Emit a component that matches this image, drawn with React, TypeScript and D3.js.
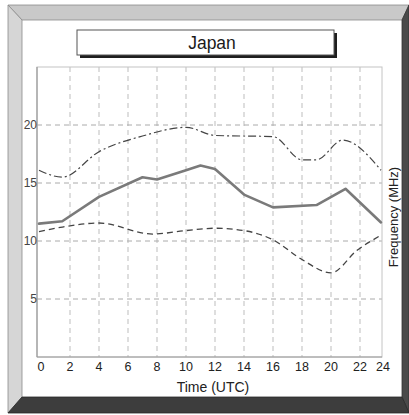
import React from "react";
import * as d3 from "d3";

const hoursTicks = [0, 2, 4, 6, 8, 10, 12, 14, 16, 18, 20, 22, 24];
const freqTicks = [5, 10, 15, 20];

const muftHours = [0, 1.5, 4, 7, 8, 10, 11, 12, 14, 16, 19, 21, 24];
const muftValues = [11.5, 11.7, 13.8, 15.5, 15.3, 16.1, 16.5, 16.2, 14.0, 12.9, 13.1, 14.5, 11.6];

const upperHours = [0, 1.5, 4, 7, 10, 12, 16, 18, 19, 20.8, 24];
const upperValues = [16.1, 15.5, 17.7, 19.05, 19.8, 19.1, 19.0, 17.0, 17.0, 18.7, 16.1];

const lowerHours = [0, 1.5, 4, 7.7, 10, 12, 14, 16, 18, 20, 21.8, 24];
const lowerValues = [10.8, 11.2, 11.55, 10.6, 10.9, 11.1, 10.9, 10.1, 8.4, 7.25, 9.2, 10.5];

const W = 409;
const H = 415;
const FONT = "'Liberation Sans', Arial, Helvetica, sans-serif";

export default function App() {
  const plot = { left: 37, right: 382, top: 67, bottom: 357 };
  const x = d3.scaleLinear().domain([0, 2, 22, 24]).range([39, 70, 360, 381]);
  const y = d3.scaleLinear().domain([0, 25]).range([plot.bottom, plot.top]);

  const mk = (hs: number[], vs: number[], curve: d3.CurveFactory) =>
    d3
      .line<number>()
      .x((_, i) => x(hs[i]))
      .y((v) => y(v))
      .curve(curve)(vs) || "";

  const f = { ol: 8, ot: 5, or: 409, ob: 413, il: 22, it: 20, ir: 402, ib: 397 };

  return (
    <svg
      width={W}
      height={H}
      style={{ position: "absolute", left: 0, top: 0, background: "#fff" }}
      fontFamily={FONT}
    >
      {/* bevel frame */}
      <rect x={f.il} y={f.it} width={f.ir - f.il} height={f.ib - f.it} fill="#fff" />
      <polygon
        points={`${f.ol},${f.ot} ${f.or},${f.ot} ${f.ir},${f.it} ${f.il},${f.it}`}
        fill="#c9c9c9"
        stroke="#8a8a8a"
        strokeWidth={0.8}
      />
      <polygon
        points={`${f.ol},${f.ot} ${f.il},${f.it} ${f.il},${f.ib} ${f.ol},${f.ob}`}
        fill="#d6d6d6"
        stroke="#8a8a8a"
        strokeWidth={0.8}
      />
      <polygon
        points={`${f.or},${f.ot} ${f.ir},${f.it} ${f.ir},${f.ib} ${f.or},${f.ob}`}
        fill="#4a4a4a"
        stroke="#333"
        strokeWidth={0.8}
      />
      <polygon
        points={`${f.ol},${f.ob} ${f.il},${f.ib} ${f.ir},${f.ib} ${f.or},${f.ob}`}
        fill="#3d3d3d"
        stroke="#2a2a2a"
        strokeWidth={0.8}
      />

      {/* title box */}
      <rect x={80} y={33} width={257} height={25} fill="#1e1e1e" />
      <rect x={77} y={30} width={257} height={25} fill="#fff" stroke="#555" strokeWidth={1} />
      <text x={212} y={49} textAnchor="middle" fontSize={17.5} fill="#1a1a1a">
        Japan
      </text>

      {/* grid */}
      {hoursTicks
        .filter((h) => h > 0 && h < 24)
        .map((h) => (
          <line
            key={"vx" + h}
            x1={x(h)}
            x2={x(h)}
            y1={plot.top}
            y2={plot.bottom}
            stroke="#bdbdbd"
            strokeWidth={1}
            strokeDasharray="5,4"
          />
        ))}
      {freqTicks.map((v) => (
        <line
          key={"hy" + v}
          x1={plot.left}
          x2={plot.right}
          y1={y(v)}
          y2={y(v)}
          stroke="#aaa"
          strokeWidth={1}
          strokeDasharray="5,4"
        />
      ))}
      <rect
        x={plot.left}
        y={plot.top}
        width={plot.right - plot.left}
        height={plot.bottom - plot.top}
        fill="none"
        stroke="#c4c4c4"
        strokeWidth={1}
      />
      <line x1={plot.left} x2={plot.left} y1={plot.top} y2={plot.bottom} stroke="#999" strokeWidth={1.2} />
      <line x1={plot.left} x2={plot.right} y1={plot.bottom} y2={plot.bottom} stroke="#999" strokeWidth={1.2} />

      {/* series */}
      <path
        d={mk(upperHours, upperValues, d3.curveMonotoneX)}
        fill="none"
        stroke="#444"
        strokeWidth={1.2}
        strokeDasharray="8,3,2,3"
      />
      <path
        d={mk(lowerHours, lowerValues, d3.curveMonotoneX)}
        fill="none"
        stroke="#444"
        strokeWidth={1.3}
        strokeDasharray="6,4"
      />
      <path
        d={mk(muftHours, muftValues, d3.curveLinear)}
        fill="none"
        stroke="#7a7a7a"
        strokeWidth={2.6}
        strokeLinejoin="round"
        strokeLinecap="round"
      />

      {/* y tick labels */}
      {freqTicks.map((v) => (
        <text key={"yl" + v} x={plot.left} y={y(v) + 4} textAnchor="end" fontSize={12} fill="#444">
          {v}
        </text>
      ))}
      {/* x tick labels */}
      {hoursTicks.map((h) => (
        <text
          key={"xl" + h}
          x={x(h) + (h === 0 ? 2 : h === 24 ? 2 : 0)}
          y={371}
          textAnchor="middle"
          fontSize={12.5}
          fill="#222"
        >
          {h}
        </text>
      ))}
      <text x={213} y={392} textAnchor="middle" fontSize={14} fill="#222">
        Time (UTC)
      </text>
      <text transform="translate(398,217) rotate(-90)" textAnchor="middle" fontSize={13} fill="#222">
        Frequency (MHz)
      </text>
    </svg>
  );
}
